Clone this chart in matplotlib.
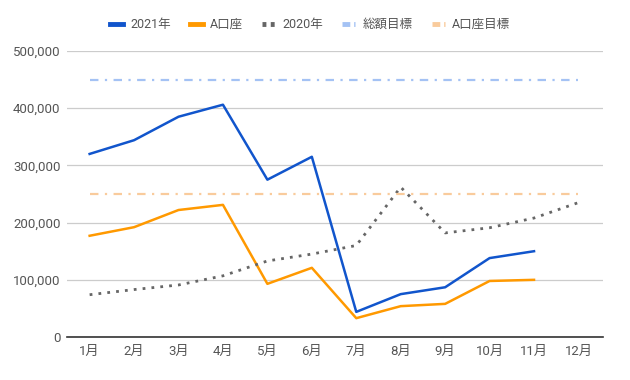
import matplotlib
matplotlib.use("Agg")
import matplotlib.pyplot as plt
from matplotlib.ticker import FuncFormatter

plt.rcParams['font.family'] = ['Roboto', 'Noto Sans CJK JP', 'DejaVu Sans']

months = ["1月", "2月", "3月", "4月", "5月", "6月", "7月", "8月", "9月", "10月", "11月", "12月"]
y2021 = [320000, 344000, 385000, 406000, 275000, 315000, 44000, 75000, 87000, 138000, 150000]
a_account = [177000, 192000, 222000, 231000, 93000, 121000, 33000, 54000, 58000, 98000, 100000]
y2020 = [74000, 83000, 91000, 107000, 133000, 145000, 160000, 262000, 182000, 191000, 208000, 235000]
total_target = [450000] * 12
a_target = [250000] * 12
yticks = [0, 100000, 200000, 300000, 400000, 500000]

fig = plt.figure(figsize=(6.3, 3.8), dpi=100)
ax = fig.add_axes([0.107, 0.113, 0.850, 0.753])

dashdot = (0, (3.8, 2.9, 1.0, 2.9))
x = list(range(len(months)))
ax.plot(x[:len(y2021)], y2021, color="#1155cc", lw=1.8, label="2021年")
ax.plot(x[:len(a_account)], a_account, color="#ff9900", lw=1.8, label="A口座")
ax.plot(x, y2020, color="#666666", lw=2, linestyle=(0, (1, 2.2)), label="2020年")
ax.plot(x, total_target, color="#a4c2f4", lw=1.6, linestyle=dashdot, label="総額目標")
ax.plot(x, a_target, color="#f9cb9c", lw=1.6, linestyle=dashdot, label="A口座目標")

ax.set_xlim(-0.5, 11.55)
ax.set_ylim(0, 500000)
ax.set_xticks(x)
ax.set_xticklabels(months)
ax.set_yticks(yticks)
ax.yaxis.set_major_formatter(FuncFormatter(lambda v, p: f"{int(v):,}"))
ax.grid(axis='y', color="#cccccc", lw=0.9)
ax.set_axisbelow(True)
for s in ["top", "right", "left"]:
    ax.spines[s].set_visible(False)
ax.spines["bottom"].set_color("#333333")
ax.spines["bottom"].set_linewidth(1.2)
ax.tick_params(axis='both', length=0, colors="#555555", labelsize=9.5)
ax.tick_params(axis='x', pad=6)
ax.tick_params(axis='y', pad=5)

leg = fig.legend(loc="center", bbox_to_anchor=(0.492, 0.935), ncol=5, frameon=False,
                 fontsize=9, handlelength=1.05, columnspacing=1.5, handletextpad=0.6)
for t in leg.get_texts():
    t.set_color("#555555")
handles = leg.get_lines()
for h in handles:
    h.set_linewidth(3.5)
handles[2].set_linestyle((0, (0.8, 0.9)))
handles[3].set_linestyle((0, (1.6, 0.8, 0.5, 1)))
handles[4].set_linestyle((0, (1.6, 0.8, 0.5, 1)))

fig.savefig("out.png", dpi=100)
